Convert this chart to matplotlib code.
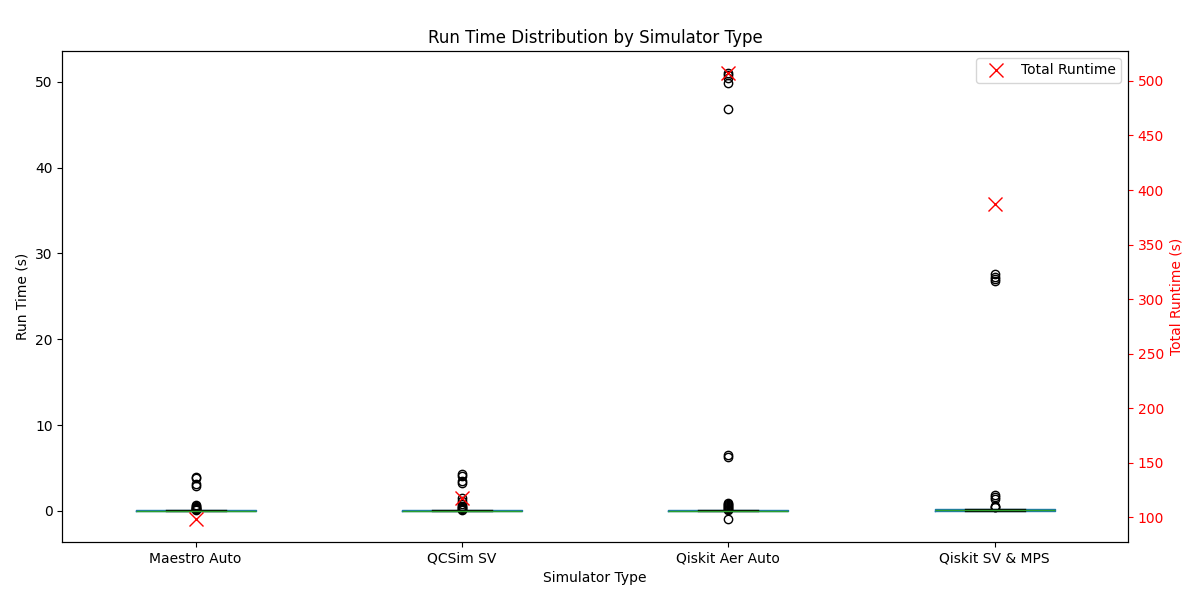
import numpy as np
import matplotlib.pyplot as plt

simulators = ["Maestro Auto", "QCSim SV", "Qiskit Aer Auto", "Qiskit SV & MPS"]

# run times (s) per simulator: bulk of short runs near zero plus the slow outliers
maestro_times = [0.01, 0.01, 0.01, 0.01, 0.01, 0.01, 0.02, 0.02, 0.02, 0.02,
                 0.02, 0.02, 0.02, 0.02, 0.03, 0.03, 0.03, 0.03, 0.03, 0.03,
                 0.03, 0.03, 0.03, 0.03, 0.04, 0.04, 0.04, 0.04, 0.04, 0.04,
                 0.04, 0.04, 0.05, 0.05, 0.05, 0.05, 0.05, 0.05, 0.05, 0.06,
                 0.06, 0.06, 0.06, 0.06, 0.07, 0.07, 0.07, 0.08,
                 0.15, 0.2, 0.25, 0.3, 0.35, 0.45, 0.55, 0.68,
                 2.95, 3.1, 3.8, 3.95]
qcsim_times = [0.01, 0.01, 0.01, 0.01, 0.01, 0.01, 0.02, 0.02, 0.02, 0.02,
               0.02, 0.02, 0.02, 0.02, 0.03, 0.03, 0.03, 0.03, 0.03, 0.03,
               0.03, 0.03, 0.03, 0.03, 0.04, 0.04, 0.04, 0.04, 0.04, 0.04,
               0.04, 0.04, 0.05, 0.05, 0.05, 0.05, 0.05, 0.05, 0.05, 0.06,
               0.06, 0.06, 0.06, 0.06, 0.07, 0.07, 0.07, 0.08,
               0.15, 0.2, 0.3, 0.4, 0.6, 0.8, 1.1, 1.5,
               3.3, 3.5, 4.1, 4.3]
aer_times = [0.01, 0.01, 0.01, 0.01, 0.01, 0.01, 0.02, 0.02, 0.02, 0.02,
             0.02, 0.02, 0.02, 0.02, 0.03, 0.03, 0.03, 0.03, 0.03, 0.03,
             0.03, 0.03, 0.03, 0.03, 0.04, 0.04, 0.04, 0.04, 0.04, 0.04,
             0.04, 0.04, 0.05, 0.05, 0.05, 0.05, 0.05, 0.05, 0.05, 0.06,
             0.06, 0.06, 0.06, 0.06, 0.07, 0.07, 0.07, 0.08,
             0.15, 0.25, 0.35, 0.45, 0.55, 0.65, 0.8, 0.9,
             -1.0, 6.3, 6.5, 46.8, 49.9, 50.4, 50.8, 51.0]
svmps_times = [0.01, 0.01, 0.02, 0.02, 0.02, 0.02, 0.03, 0.03, 0.03, 0.03,
               0.03, 0.03, 0.04, 0.04, 0.04, 0.04, 0.04, 0.04, 0.05, 0.05,
               0.05, 0.05, 0.05, 0.05, 0.06, 0.06, 0.07, 0.08, 0.09, 0.1,
               0.11, 0.12, 0.13, 0.14, 0.15, 0.15, 0.16, 0.16, 0.17, 0.17,
               0.18, 0.18, 0.19, 0.19, 0.2, 0.2, 0.21, 0.22,
               0.45, 0.5, 0.55, 1.4, 1.6, 1.8,
               26.8, 27.0, 27.3, 27.6]
run_times = [maestro_times, qcsim_times, aer_times, svmps_times]

total_runtime = [98, 117.5, 507, 387.5]

fig, ax = plt.subplots(figsize=(12, 6), dpi=100)
fig.subplots_adjust(left=0.052, right=0.94, top=0.915, bottom=0.097)

pos = np.arange(1, len(simulators) + 1)
ax.boxplot(run_times, positions=pos,
           boxprops=dict(color="#1f77b4"),
           whiskerprops=dict(color="#1f77b4"),
           medianprops=dict(color="#2ca02c"),
           capprops=dict(color="k"))
ax.set_xticks(pos)
ax.set_xticklabels(simulators)
ax.set_xlabel("Simulator Type")
ax.set_ylabel("Run Time (s)")
ax.set_title("Run Time Distribution by Simulator Type")

ax2 = ax.twinx()
ax2.plot(pos, total_runtime, "rx", markersize=10, label="Total Runtime")
ax2.set_ylabel("Total Runtime (s)", color="red")
ax2.tick_params(axis="y", colors="red")
ax2.legend(loc="upper right")

plt.savefig("out.png")
